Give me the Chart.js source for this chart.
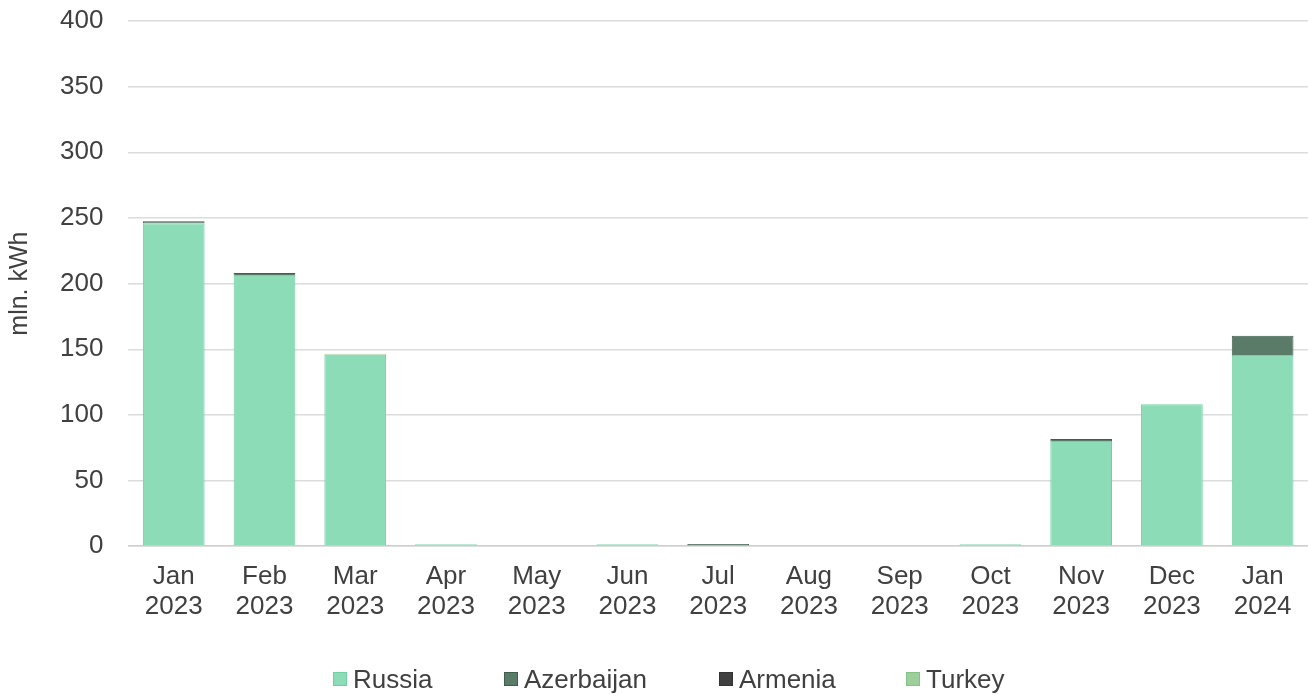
<!DOCTYPE html>
<html>
<head>
<meta charset="utf-8">
<script src="https://cdn.jsdelivr.net/npm/chart.js@4/dist/chart.umd.min.js"></script>
<style>
  html, body { margin: 0; padding: 0; background: #ffffff; }
  #wrap { position: relative; width: 1308px; height: 694px; }
  #legend { position: absolute; left: 0; top: 0; width: 1308px; height: 694px; pointer-events: none;
            font-family: "Liberation Sans", Arial, sans-serif; font-size: 26px; color: #404040; }
  .item { position: absolute; top: 664px; height: 30px; display: flex; align-items: center; white-space: nowrap; }
  .box { width: 14px; height: 14px; margin-right: 6px; box-sizing: border-box; border: 1px solid; }
</style>
</head>
<body>
<div id="wrap">
  <canvas id="chart" width="1308" height="694"></canvas>
  <div id="legend"></div>
</div>
<script>
// Monthly electricity imports by source country, mln. kWh
const months = [
  ['Jan', '2023'], ['Feb', '2023'], ['Mar', '2023'], ['Apr', '2023'], ['May', '2023'],
  ['Jun', '2023'], ['Jul', '2023'], ['Aug', '2023'], ['Sep', '2023'], ['Oct', '2023'],
  ['Nov', '2023'], ['Dec', '2023'], ['Jan', '2024']
];
const russia     = [245.8, 206, 145.8, 1.5, 0, 1.5, 0, 0, 0, 1.5, 80.1, 108.2, 145];
const azerbaijan = [1.6, 2, 0, 0, 0, 0, 1.6, 0, 0, 0, 1.5, 0, 15.3];
const armenia    = [0, 0, 0, 0, 0, 0, 0, 0, 0, 0, 0, 0, 0];
const turkey     = [0, 0, 0.7, 0, 0, 0, 0, 0, 0, 0, 0, 0, 0];

const seriesNames = ['Russia', 'Azerbaijan', 'Armenia', 'Turkey'];
const fills   = ['#8ddcb8', '#5b7b69', '#404040', '#9ccf9c'];
const borders = ['#72cfa2', '#3f5f4d', '#333333', '#86c286'];
const yTicks  = [0, 50, 100, 150, 200, 250, 300, 350, 400];

const font = "'Liberation Sans', Arial, sans-serif";
const textColor = '#404040';

const datasets = [russia, azerbaijan, armenia, turkey].map((vals, i) => ({
  label: seriesNames[i],
  data: vals,
  backgroundColor: fills[i],
  borderColor: borders[i],
  borderWidth: 1,
  barPercentage: 0.68,
  categoryPercentage: 1.0
}));

new Chart(document.getElementById('chart'), {
  type: 'bar',
  data: { labels: months, datasets: datasets },
  options: {
    responsive: false,
    animation: false,
    layout: { padding: { left: 0, right: 0, top: 21, bottom: 56 } },
    plugins: { legend: { display: false }, tooltip: { enabled: false } },
    scales: {
      x: {
        stacked: true,
        grid: { display: false, drawTicks: false },
        border: { display: true, color: '#cfcfcf', width: 1.5 },
        ticks: { color: textColor, padding: 16, maxRotation: 0,
                 font: { family: font, size: 26, lineHeight: 1.15 } }
      },
      y: {
        stacked: true,
        min: 0, max: 400,
        afterBuildTicks: axis => { axis.ticks = yTicks.map(v => ({ value: v })); },
        grid: { color: '#dcdcdc', lineWidth: 1.5, drawTicks: true, tickLength: 25, tickColor: 'rgba(0,0,0,0)' },
        border: { display: false },
        ticks: { color: textColor, padding: 0, font: { family: font, size: 26 } },
        title: { display: true, text: 'mln. kWh', color: textColor,
                 padding: { top: 5, bottom: 25 },
                 font: { family: font, size: 25, lineHeight: 1.2 } }
      }
    }
  }
});

// Legend row under the chart
const legendLefts = [333, 504, 719, 906];
const legend = document.getElementById('legend');
seriesNames.forEach((name, i) => {
  const item = document.createElement('div');
  item.className = 'item';
  item.style.left = legendLefts[i] + 'px';
  const box = document.createElement('span');
  box.className = 'box';
  box.style.background = fills[i];
  box.style.borderColor = borders[i];
  const txt = document.createElement('span');
  txt.textContent = name;
  item.appendChild(box);
  item.appendChild(txt);
  legend.appendChild(item);
});
</script>
</body>
</html>
